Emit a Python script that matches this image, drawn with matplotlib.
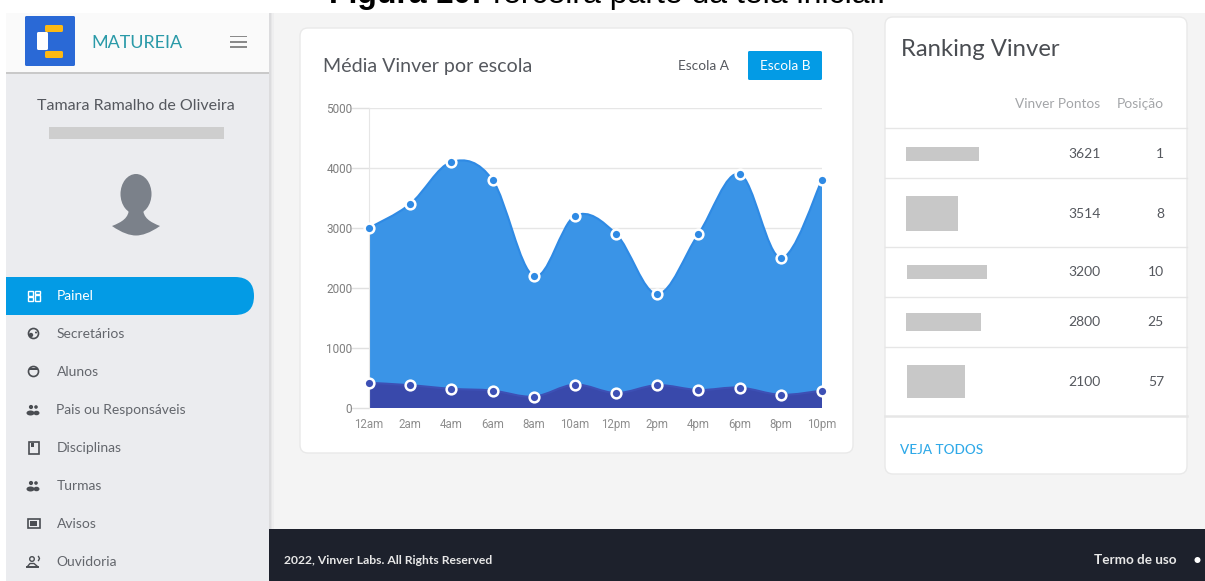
import numpy as np
from matplotlib import pyplot as plt
from matplotlib.patches import Rectangle, FancyBboxPatch, PathPatch, Ellipse, Circle
from matplotlib.path import Path

W, H = 1205, 581

hours = ["12am", "2am", "4am", "6am", "8am", "10am", "12pm", "2pm", "4pm", "6pm", "8pm", "10pm"]
escola_b = [3000, 3400, 4100, 3800, 2200, 3200, 2900, 1900, 2900, 3900, 2500, 3800]
escola_a = [420, 380, 320, 290, 190, 390, 250, 380, 300, 340, 220, 290]
y_ticks = [0, 1000, 2000, 3000, 4000, 5000]

menu_items = ["Painel", "Secretários", "Alunos", "Pais ou Responsáveis",
              "Disciplinas", "Turmas", "Avisos", "Ouvidoria"]
ranking_points = [3621, 3514, 3200, 2800, 2100]
ranking_pos = [1, 8, 10, 25, 57]

UI_FONT = "Lato"
TXT = "#55585e"
BLUE = "#039be5"


def smooth_path(xs, ys, tension=0.17):
    # cardinal spline as cubic bezier segments
    xs = np.asarray(xs, dtype=float)
    ys = np.asarray(ys, dtype=float)
    n = len(xs)
    verts = [(xs[0], ys[0])]
    codes = [Path.MOVETO]
    for i in range(n - 1):
        a = max(i - 1, 0)
        b = min(i + 2, n - 1)
        c1 = (xs[i] + (xs[i + 1] - xs[a]) * tension, ys[i] + (ys[i + 1] - ys[a]) * tension)
        c2 = (xs[i + 1] - (xs[b] - xs[i]) * tension, ys[i + 1] - (ys[b] - ys[i]) * tension)
        verts += [c1, c2, (xs[i + 1], ys[i + 1])]
        codes += [Path.CURVE4] * 3
    return verts, codes


def rrect(ax, x, y, w, h, r, fc, ec="none", lw=0, z=2):
    ax.add_patch(FancyBboxPatch((x + r, y + r), w - 2 * r, h - 2 * r,
                                boxstyle="round,pad=%f,rounding_size=%f" % (r, r),
                                fc=fc, ec=ec, lw=lw, zorder=z))


def box(ax, x, y, w, h, fc, z=3):
    ax.add_patch(Rectangle((x, y), w, h, fc=fc, ec="none", zorder=z))


def dot(ax, x, y, r, fc, z=5):
    ax.add_patch(Circle((x, y), r, fc=fc, ec="none", zorder=z))


def ring(ax, x, y, r, ec, lw=1.2, z=5):
    ax.add_patch(Circle((x, y), r, fc="none", ec=ec, lw=lw, zorder=z))


def people(ax, y, ic):
    # small group glyph used by several menu rows
    dot(ax, 31, y - 2.5, 2.1, ic)
    dot(ax, 36, y - 2.5, 1.8, ic)
    ax.add_patch(Ellipse((30.5, y + 3.5), 8, 5, fc=ic, ec="none", zorder=5))
    ax.add_patch(Ellipse((36.5, y + 3.5), 6, 4.5, fc=ic, ec="none", zorder=5))


fig = plt.figure(figsize=(W / 100, H / 100), dpi=100, facecolor="white")

# page layer in pixel coordinates, y pointing down
ui = fig.add_axes([0, 0, 1, 1])
ui.set_xlim(0, W)
ui.set_ylim(H, 0)
ui.axis("off")

box(ui, 6, 13, W - 6, H - 13, "#f4f4f4", z=0)
box(ui, 6, 13, 263, H - 13, "#ebecef", z=1)
for k, col in enumerate(["#dcdcde", "#e6e6e7", "#eeeeef"]):
    box(ui, 269 + k * 1.5, 13, 1.5, H - 13, col, z=1)
box(ui, 6, 13, 263, 59, "#fafafa", z=2)
box(ui, 6, 72, 263, 1.5, "#c9c9c9", z=2)
box(ui, 269, 529, W - 269, H - 529, "#1d212c", z=2)

ui.text(329, 3, "Figura 10:", family="Liberation Sans", fontsize=23, fontweight="bold",
        va="baseline", color="black", zorder=1)
ui.text(487, 3, "Terceira parte da tela inicial.", family="Liberation Sans", fontsize=23,
        va="baseline", color="black", zorder=1)

# logo
rrect(ui, 25, 16, 50, 50, 1.5, "#2a69d6")
rrect(ui, 37, 32, 11, 18, 1.5, "white", z=3)
rrect(ui, 45, 25, 18, 7, 1.5, "#fdb913", z=4)
rrect(ui, 45, 51, 18, 7, 1.5, "#fdb913", z=4)
ui.text(91, 42.5, "MATUREIA", family=UI_FONT, fontsize=12.9, color="#2a9aa8", va="center", zorder=3)
for yy in (36.5, 42, 47):
    box(ui, 230, yy - 0.7, 17, 1.4, "#8a8a8a")

# profile
ui.text(136, 106.5, "Tamara Ramalho de Oliveira", family=UI_FONT, fontsize=11.5, color=TXT,
        ha="center", va="center", zorder=3)
box(ui, 49, 127, 175, 12, "#cecece")
AV = "#7b818a"
ui.add_patch(Ellipse((136, 194), 31, 40, fc=AV, ec="none", zorder=3))
shoulders = Path([(129, 208), (129, 218), (122, 222), (112, 226), (122, 233), (130, 235.5), (136, 235.5),
                  (142, 235.5), (150, 233), (160, 226), (150, 222), (143, 218), (143, 208), (129, 208)],
                 [Path.MOVETO, Path.CURVE4, Path.CURVE4, Path.CURVE4, Path.CURVE4, Path.CURVE4, Path.CURVE4,
                  Path.CURVE4, Path.CURVE4, Path.CURVE4, Path.CURVE4, Path.CURVE4, Path.CURVE4, Path.CLOSEPOLY])
ui.add_patch(PathPatch(shoulders, fc=AV, ec="none", zorder=3))

# menu
rrect(ui, -14, 277, 268, 38, 19, BLUE, z=3)
box(ui, 0, 277, 6, 38, "white", z=4)
for i, name in enumerate(menu_items):
    yy = 295.5 + i * 38
    col = "white" if i == 0 else "#63666c"
    ui.text(56.5, yy + 0.5, name, family=UI_FONT, fontsize=10, color=col, va="center", zorder=5)
    ic = "white" if i == 0 else "#4a4d52"
    if i == 0:
        for dx, dy, w, h in [(28, -5, 5, 5), (34.5, -5, 5, 3), (28, 1.5, 5, 3.5), (34.5, -0.5, 5, 5.5)]:
            ui.add_patch(Rectangle((dx, yy + dy), w, h, fc="none", ec=ic, lw=1, zorder=5))
    elif i == 1:
        ring(ui, 33.5, yy, 5, ic)
        dot(ui, 31, yy + 1.5, 2.2, ic)
        dot(ui, 36, yy - 1, 1, ic)
    elif i == 2:
        ring(ui, 33.5, yy, 5, ic)
        box(ui, 29, yy - 3.5, 9, 1.5, ic, z=5)
    elif i == 3:
        people(ui, yy, ic)
    elif i == 4:
        ui.add_patch(Rectangle((28.5, yy - 5.5), 10, 11.5, fc="none", ec=ic, lw=1.2, zorder=5))
        box(ui, 30.5, yy - 5, 3, 4, ic, z=5)
    elif i == 5:
        people(ui, yy, ic)
    elif i == 6:
        ui.add_patch(Rectangle((27.5, yy - 5), 12, 9.5, fc="none", ec=ic, lw=1.2, zorder=5))
        box(ui, 30, yy - 3, 7, 5, ic, z=5)
    else:
        ring(ui, 32, yy - 2.5, 2.3, ic, lw=1)
        ui.plot([27, 38], [yy + 5, yy + 5], color=ic, lw=1.4, zorder=5)
        ui.plot([27.5, 30, 34, 37.5], [yy + 5, yy + 2, yy + 2, yy + 5], color=ic, lw=1, zorder=5)
        ui.plot([38.5, 39.5, 38.5], [yy - 5, yy - 3, yy - 1], color=ic, lw=1, zorder=5)

# chart card
rrect(ui, 300, 28, 553, 425, 8, "white", ec="#e9e9e9", lw=1)
ui.text(323, 66.5, "Média Vinver por escola", family=UI_FONT, fontsize=14.1, color=TXT, va="center", zorder=3)
ui.text(703, 66.5, "Escola A", family=UI_FONT, fontsize=9.8, color=TXT, ha="center", va="center", zorder=3)
rrect(ui, 748, 51, 74, 29, 1.5, BLUE)
ui.text(785, 66.5, "Escola B", family=UI_FONT, fontsize=9.8, color="white", ha="center", va="center", zorder=3)

# ranking card
rrect(ui, 885, 17, 302, 457, 8, "white", ec="#e9e9e9", lw=1)
ui.text(901, 49.5, "Ranking Vinver", family=UI_FONT, fontsize=17.2, color="#4a4d52", va="center", zorder=3)
ui.text(1100.5, 104.5, "Vinver Pontos", family=UI_FONT, fontsize=9.8, color="#a3a5a8", ha="right", va="center", zorder=3)
ui.text(1164, 104.5, "Posição", family=UI_FONT, fontsize=10, color="#a3a5a8", ha="right", va="center", zorder=3)
for yy, lw in zip((128, 178, 247, 297, 347, 416), (1, 1, 1, 1, 1, 1.8)):
    ui.plot([885, 1187], [yy, yy], color="#e6e6e6", lw=lw, zorder=3)
row_y = [153.5, 213, 272, 322, 381]
blocks = [(906, 147, 73, 14), (906, 196, 52, 35), (907, 265, 80, 14), (906, 313, 75, 18), (907, 365, 58, 33)]
for yy, pts, pos, b in zip(row_y, ranking_points, ranking_pos, blocks):
    box(ui, b[0], b[1], b[2], b[3], "#c8c8c8")
    ui.text(1100.5, yy + 0.5, str(pts), family=UI_FONT, fontsize=10, color=TXT, ha="right", va="center", zorder=3)
    ui.text(1164, yy + 0.5, str(pos), family=UI_FONT, fontsize=10, color=TXT, ha="right", va="center", zorder=3)
ui.text(900, 450, "VEJA TODOS", family=UI_FONT, fontsize=9.7, color="#2fa9e8", va="center",
        fontweight="medium", zorder=3)

# footer
ui.text(284, 560, "2022, Vinver Labs. All Rights Reserved", family=UI_FONT, fontsize=8.7, color="#e8e8e8",
        fontweight="bold", va="center", zorder=3)
ui.text(1177, 560, "Termo de uso", family=UI_FONT, fontsize=9.7, color="#e8e8e8",
        fontweight="bold", ha="right", va="center", zorder=3)
dot(ui, 1197.5, 560, 3, "white", z=3)

# area chart
left, right, top, bottom = 369, 822, 108, 408
ax = fig.add_axes([left / W, 1 - bottom / H, (right - left) / W, (bottom - top) / H], facecolor="none")
ax.set_zorder(5)
x = np.arange(len(hours))
ax.set_xlim(0, len(hours) - 1)
ax.set_ylim(0, 5000)

for values, fc, lc in [(escola_b, "#3a94e7", "#2f8ae4"), (escola_a, "#3949ab", "#3d50b5")]:
    verts, codes = smooth_path(x, values)
    area = Path(verts + [(x[-1], 0), (x[0], 0), (x[0], 0)],
                codes + [Path.LINETO, Path.LINETO, Path.CLOSEPOLY])
    ax.add_patch(PathPatch(area, fc=fc, ec="none", zorder=2))
    ax.add_patch(PathPatch(Path(verts, codes), fc="none", ec=lc, lw=1.5, zorder=3))
    ax.plot(x, values, "o", ms=7, mfc=lc, mec="white", mew=1.8, clip_on=False, zorder=4)

ax.set_xticks(x)
ax.set_xticklabels(hours)
ax.set_yticks(y_ticks)
ax.grid(axis="y", color="#e6e6e6", lw=1, zorder=0)
ax.set_axisbelow(True)
for side in ("top", "right", "bottom"):
    ax.spines[side].set_visible(False)
ax.spines["left"].set_color("#e6e6e6")
ax.tick_params(axis="y", length=13, width=1, color="#e0e0e0", labelsize=8.5, labelcolor="#7e7e7e", pad=-1)
ax.tick_params(axis="x", length=0, labelsize=8.3, labelcolor="#8e8e8e", pad=7)
for lab in ax.get_xticklabels() + ax.get_yticklabels():
    lab.set_family("Roboto")

fig.savefig("out.png", dpi=100)
